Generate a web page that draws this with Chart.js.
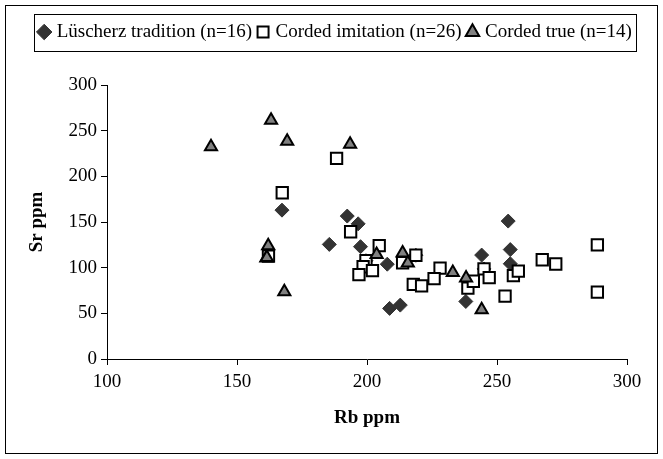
<!DOCTYPE html>
<html><head><meta charset="utf-8">
<script src="https://cdn.jsdelivr.net/npm/chart.js@4/dist/chart.umd.min.js"></script>
<style>html,body{margin:0;padding:0;background:#fff}</style>
</head><body>
<canvas id="c" width="663" height="459"></canvas>
<script>
const seriesNames = ['Lüscherz tradition (n=16)', 'Corded imitation (n=26)', 'Corded true (n=14)'];
const xTitle = 'Rb ppm';
const yTitle = 'Sr ppm';
const xTicks = [100, 150, 200, 250, 300];
const yTicks = [0, 50, 100, 150, 200, 250, 300];

const luscherzRb = [167.3, 192.4, 196.6, 185.5, 197.5, 207.8, 208.7, 212.8, 244.1, 238.0, 254.3, 255.1, 255.1, 199.6, 218.8, 245.0];
const luscherzSr = [163, 156.5, 148, 125.5, 123, 103.8, 55.4, 59, 113.8, 63, 151, 119.8, 104.3, 107.6, 113.6, 98.6];

const imitationRb = [188.3, 167.4, 162.1, 193.7, 204.7, 199.6, 198.5, 202.1, 196.9, 213.7, 218.8, 217.8, 221.0, 228.1, 225.8, 245.0, 247.0, 238.8, 240.9, 253.1, 256.3, 258.2, 267.4, 272.6, 288.6, 288.6];
const imitationSr = [219.6, 182, 112.7, 139.3, 124.2, 107.6, 101, 96.7, 92.4, 105.4, 113.6, 81.8, 80.1, 99.5, 88, 98.6, 89.1, 77.7, 85.1, 68.8, 91.3, 96.2, 108.7, 104, 125, 73.2];

const trueRb = [163.1, 169.3, 140.0, 193.5, 162.0, 161.3, 168.2, 203.7, 213.7, 215.7, 233.0, 238.1, 244.1, 161.5];
const trueSr = [261.5, 238.5, 232.5, 235, 124, 110.5, 73.5, 114.5, 116, 105, 94.7, 88.8, 54, 111];

const FONT = "'Liberation Serif', 'Times New Roman', serif";
const pts = (xs, ys) => xs.map((x, i) => ({x: x, y: ys[i]}));

const framePlugin = {
  id: 'frame',
  beforeLayout(chart) {
    const L = chart.legend;
    if (L && !L._patched) {
      const f = L.fit;
      L.fit = function () { f.call(this); this.height += 33.5; };
      L._patched = true;
    }
  },
  afterLayout(chart) {
    const L = chart.legend;
    L.left += 23; L.right += 23;
  },
  afterDraw(chart) {
    const ctx = chart.ctx;
    ctx.save();
    ctx.strokeStyle = '#000';
    ctx.lineWidth = 1;
    ctx.strokeRect(5.5, 5.5, 652, 448);
    const L = chart.legend;
    const pad = L.options.labels.padding;
    const lw = L.lineWidths[0];
    const x0 = (L.left + pad + L.right - lw) / 2;
    const x1 = x0 + lw - pad;
    const y0 = L.top + pad;
    const y1 = y0 + 19;
    ctx.strokeRect(Math.round(x0 - 7) + 0.5, Math.round(y0 - 9) + 0.5, Math.round(x1 - x0 + 11), Math.round(y1 - y0 + 18));
    ctx.restore();
  }
};

new Chart(document.getElementById('c'), {
  type: 'scatter',
  data: {
    datasets: [
      { label: seriesNames[0], data: pts(luscherzRb, luscherzSr), pointStyle: 'rectRot', pointRadius: 7, backgroundColor: '#333333', borderColor: '#333333', borderWidth: 1, order: 3 },
      { label: seriesNames[1], data: pts(imitationRb, imitationSr), pointStyle: 'rect', pointRadius: 8, backgroundColor: '#ffffff', borderColor: '#000000', borderWidth: 2, order: 2 },
      { label: seriesNames[2], data: pts(trueRb, trueSr), pointStyle: 'triangle', pointRadius: 7, backgroundColor: '#808080', borderColor: '#000000', borderWidth: 2, order: 1 }
    ]
  },
  options: {
    responsive: false,
    animation: false,
    devicePixelRatio: 1,
    layout: { padding: { top: 14.5, left: 0, right: 36, bottom: 0 } },
    plugins: {
      legend: {
        position: 'top',
        labels: {
          usePointStyle: true, boxWidth: 6, boxHeight: 11, padding: 8, color: '#000',
          font: { family: FONT, size: 19 },
          sort: (a, b) => a.datasetIndex - b.datasetIndex
        }
      },
      tooltip: { enabled: false }
    },
    scales: {
      x: {
        type: 'linear', min: xTicks[0], max: xTicks[xTicks.length - 1],
        afterBuildTicks: s => { s.ticks = xTicks.map(v => ({value: v})); },
        ticks: { color: '#000', font: { family: FONT, size: 19 }, padding: 6 },
        grid: { drawOnChartArea: false, drawTicks: true, tickLength: 6, color: '#000' },
        border: { color: '#000', width: 1 },
        title: { display: true, text: xTitle, color: '#000', font: { family: FONT, size: 19, weight: 'bold' }, padding: { top: 0, bottom: 30 } },
        afterFit: s => { s.height = 100; }
      },
      y: {
        type: 'linear', min: yTicks[0], max: yTicks[yTicks.length - 1],
        afterBuildTicks: s => { s.ticks = yTicks.map(v => ({value: v})); },
        ticks: { color: '#000', font: { family: FONT, size: 19 }, padding: 4 },
        grid: { drawOnChartArea: false, drawTicks: true, tickLength: 6, color: '#000' },
        border: { color: '#000', width: 1 },
        title: { display: true, text: yTitle, color: '#000', font: { family: FONT, size: 19, weight: 'bold' }, padding: { top: 25.6, bottom: 0 } },
        afterFit: s => { s.width = 107; }
      }
    }
  },
  plugins: [framePlugin]
});
</script>
</body></html>
